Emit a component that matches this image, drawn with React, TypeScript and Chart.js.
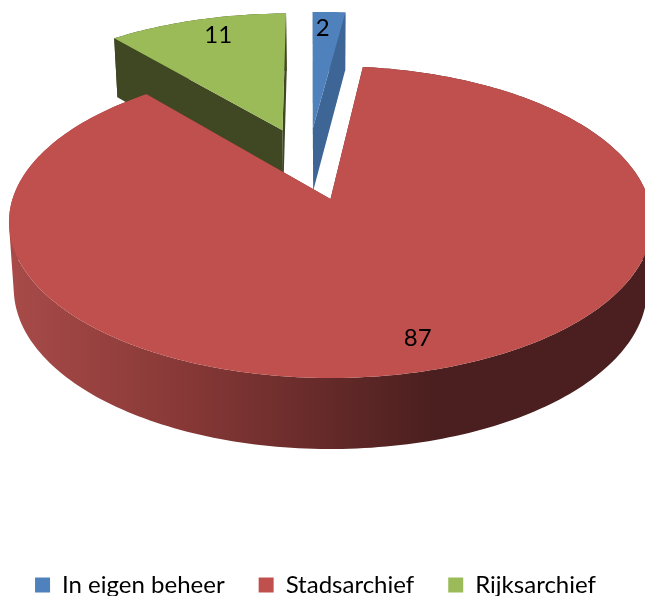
import React, { useEffect, useRef } from "react";
import { Chart, registerables } from "chart.js";

Chart.register(...registerables);

const categories = ["In eigen beheer", "Stadsarchief", "Rijksarchief"];
const values = [2, 87, 11];
const topColors = ["#4f81bd", "#c0504d", "#9bbb59"];
const wallColors = ["#3d6696", "", "#3f4723"];
const wallStops = ["#a84b49", "#863836", "#4b1f1f", "#4b1f1f"];
const stopAt = [0, 0.28, 0.66, 1];
const drawOrder = [2, 0, 1];

const ORIGIN_X = 330.5;
const ORIGIN_Y = 199;
const SCALE_X = 318;
const SCALE_Y = 152.5;
const PERSPECTIVE = 0.148;
const EXPLODE = 0.255;
const RADIUS = 200;
const LABEL_AT = 0.84;
const LABEL_NUDGE_X = [-4, 0, 9];
const LABEL_NUDGE_Y = [0, 0, -1];

type Pt = { x: number; y: number };

const project = (u: number, v: number): Pt => {
  const w = 1 - PERSPECTIVE * v;
  return { x: ORIGIN_X + (SCALE_X * u) / w, y: ORIGIN_Y + (SCALE_Y * v) / w };
};
const lower = (u: number, v: number): Pt => {
  const p = project(u, v);
  return { x: ORIGIN_X + (p.x - ORIGIN_X) * 0.985, y: p.y + 65.6 + 5.4 * v };
};
const signedArea = (pts: Pt[]) =>
  pts.reduce((sum, p, i) => {
    const q = pts[(i + 1) % pts.length];
    return sum + p.x * q.y - q.x * p.y;
  }, 0);

const pie3d = {
  id: "pie3d",
  beforeDatasetsDraw(chart: any) {
    const ctx = chart.ctx as CanvasRenderingContext2D;
    const arcs = chart.getDatasetMeta(0).data as any[];
    const shift = (arc: any) => {
      const mid = (arc.startAngle + arc.endAngle) / 2;
      const d = (arc.options.offset || 0) / arc.outerRadius;
      return { u: Math.cos(mid) * d, v: Math.sin(mid) * d };
    };
    const biggest = arcs.reduce((a, b) => (b.circumference > a.circumference ? b : a));
    const anchor = shift(biggest);

    const tracePath = (pts: Pt[]) => {
      pts.forEach((p, i) => (i ? ctx.lineTo(p.x, p.y) : ctx.moveTo(p.x, p.y)));
      ctx.closePath();
    };
    const fillPath = (pts: Pt[], fill: any) => {
      ctx.beginPath();
      tracePath(pts);
      ctx.fillStyle = fill;
      ctx.fill();
    };

    const faces = (index: number) => {
      const arc = arcs[index];
      const s = shift(arc);
      const cu = s.u - anchor.u;
      const cv = s.v - anchor.v;
      const steps = Math.max(4, Math.ceil(arc.circumference / 0.02));
      const rim: { u: number; v: number }[] = [];
      for (let i = 0; i <= steps; i++) {
        const a = arc.startAngle + (arc.circumference * i) / steps;
        rim.push({ u: cu + Math.cos(a), v: cv + Math.sin(a) });
      }
      return { arc, cu, cv, rim };
    };

    ctx.save();
    drawOrder.forEach((index) => {
      const { arc, cu, cv, rim } = faces(index);
      const first = rim[0];
      const last = rim[rim.length - 1];
      const wallTop = rim.map((p) => project(p.u, p.v));
      const wallBottom = rim.map((p) => lower(p.u, p.v));
      let wallFill: any = wallColors[index];
      if (!wallFill) {
        const xs = [...wallTop, ...wallBottom].map((p) => p.x);
        const g = ctx.createLinearGradient(Math.min(...xs), 0, Math.max(...xs), 0);
        wallStops.forEach((c, i) => g.addColorStop(stopAt[i], c));
        wallFill = g;
      }
      // All wall quads go into one path with one winding, so the fill is seamless.
      ctx.beginPath();
      for (let i = 0; i + 1 < rim.length; i++) {
        const quad = [wallTop[i], wallTop[i + 1], wallBottom[i + 1], wallBottom[i]];
        tracePath(signedArea(quad) < 0 ? quad.reverse() : quad);
      }
      ctx.fillStyle = wallFill;
      ctx.fill("nonzero");
      fillPath(
        [project(cu, cv), project(first.u, first.v), lower(first.u, first.v), lower(cu, cv)],
        wallFill
      );
      fillPath(
        [project(cu, cv), project(last.u, last.v), lower(last.u, last.v), lower(cu, cv)],
        wallFill
      );
      fillPath([project(cu, cv), ...wallTop], arc.options.backgroundColor);
    });

    ctx.fillStyle = "#000000";
    ctx.font = "24px Lato";
    ctx.textAlign = "center";
    ctx.textBaseline = "middle";
    arcs.forEach((arc, index) => {
      const s = shift(arc);
      const mid = (arc.startAngle + arc.endAngle) / 2;
      const p = project(
        s.u - anchor.u + Math.cos(mid) * LABEL_AT,
        s.v - anchor.v + Math.sin(mid) * LABEL_AT
      );
      ctx.fillText(String(values[index]), p.x + LABEL_NUDGE_X[index], p.y + LABEL_NUDGE_Y[index]);
    });
    ctx.restore();
    return false;
  },
};

export default function App() {
  const ref = useRef<HTMLCanvasElement>(null);
  useEffect(() => {
    const chart = new Chart(ref.current as HTMLCanvasElement, {
      type: "pie",
      data: {
        labels: categories,
        datasets: [
          {
            data: values,
            backgroundColor: topColors,
            borderWidth: 0,
            offset: RADIUS * EXPLODE,
          },
        ],
      },
      options: {
        responsive: false,
        animation: false,
        radius: RADIUS,
        rotation: -0.5,
        layout: { padding: { right: 14 } },
        plugins: {
          tooltip: { enabled: false },
          legend: {
            position: "bottom",
            labels: {
              boxWidth: 15,
              boxHeight: 15,
              padding: 34,
              color: "#000000",
              font: { family: "Lato", size: 24 },
            },
          },
        },
      },
      plugins: [pie3d],
    } as any);
    return () => chart.destroy();
  }, []);
  return (
    <div style={{ position: "fixed", left: 0, top: 0, width: 645, height: 596, overflow: "hidden", background: "#ffffff" }}>
      <canvas ref={ref} width={645} height={607} style={{ display: "block" }} />
    </div>
  );
}
